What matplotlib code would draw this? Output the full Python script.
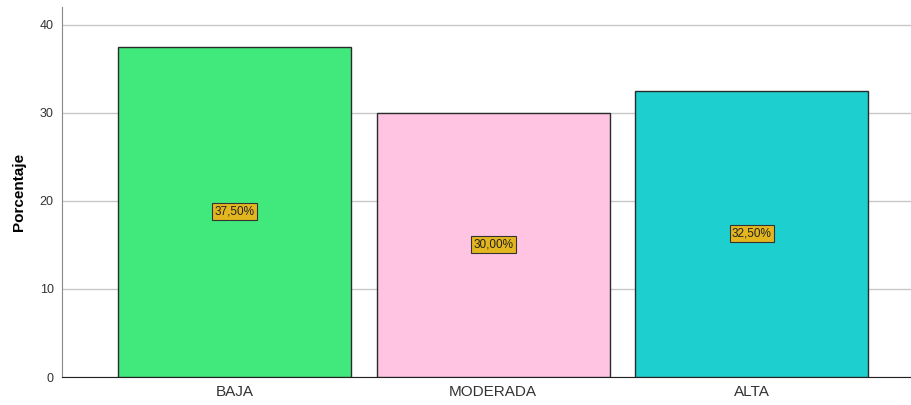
import matplotlib.pyplot as plt

categorias = ["BAJA", "MODERADA", "ALTA"]
porcentajes = [37.5, 30.0, 32.5]
etiquetas = ["37,50%", "30,00%", "32,50%"]
colores = ["#41e97d", "#fec4e2", "#1dcfcf"]

plt.rcParams["font.family"] = ["Liberation Sans", "DejaVu Sans"]

fig = plt.figure(figsize=(9.12, 4.05), dpi=100)
ax = fig.add_axes([62 / 912, 1 - 377 / 405, 850 / 912, 370 / 405])

x = range(len(categorias))
ax.bar(x, porcentajes, width=0.9, color=colores, edgecolor="#2b2b2b", linewidth=1.0, zorder=3)

for i, (v, t) in enumerate(zip(porcentajes, etiquetas)):
    ax.text(i, v / 2, t, ha="center", va="center", fontsize=8.5, color="#222222", zorder=4,
            bbox=dict(boxstyle="square,pad=0.2", facecolor="#e3b61f", edgecolor="#333333", linewidth=0.8))

ax.set_xlim(-0.667, 2.619)
ax.set_ylim(0, 42)
ax.set_yticks([0, 10, 20, 30, 40])
ax.set_xticks(list(x))
ax.set_xticklabels(categorias, fontsize=11, color="#333333")
ax.tick_params(axis="y", labelsize=9, colors="#333333", length=0, pad=6)
ax.tick_params(axis="x", length=0, pad=6)
ax.grid(axis="y", color="#c8c8c8", linewidth=1.0, zorder=0)
ax.set_ylabel("Porcentaje", fontsize=11, fontweight="bold", labelpad=10)

for s in ["top", "right"]:
    ax.spines[s].set_visible(False)
ax.spines["left"].set_color("#888888")
ax.spines["bottom"].set_color("#222222")

fig.savefig("out.png", dpi=100)
